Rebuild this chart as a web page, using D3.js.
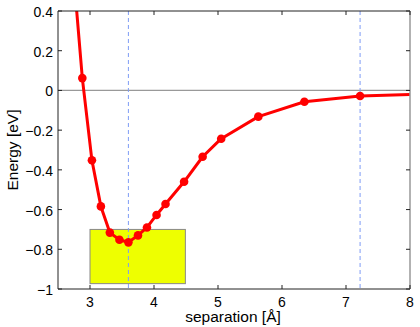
<!DOCTYPE html>
<html><head><meta charset="utf-8">
<script src="https://cdn.jsdelivr.net/npm/d3@7"></script>
<style>body{margin:0;background:#fff}svg{display:block}text{font-family:"Liberation Sans",Arial,sans-serif}</style>
</head><body><svg id="c" width="420" height="327"></svg>
<script>
const sepValues = [2.74, 2.88, 3.03, 3.17, 3.31, 3.46, 3.60, 3.75, 3.89, 4.04, 4.18, 4.47, 4.76, 5.05, 5.63, 6.35, 7.22, 8.0];
const energyValues = [0.60, 0.062, -0.352, -0.584, -0.716, -0.752, -0.765, -0.730, -0.690, -0.627, -0.572, -0.460, -0.334, -0.243, -0.132, -0.057, -0.028, -0.021];
const markerIdx = [1,2,3,4,5,6,7,8,9,10,11,12,13,14,15,16];
const xTicks = [3,4,5,6,7,8];
const yTicks = [0.4,0.2,0,-0.2,-0.4,-0.6,-0.8,-1];
const vLines = [3.60, 7.22];
const boxX = [3.0, 4.49];
const boxY = [-0.70, -0.973];

const L=58,R=410,T=11,B=289;
const x=d3.scaleLinear().domain([2.5,8]).range([L,R]);
const y=d3.scaleLinear().domain([-1,0.4]).range([B,T]);
const svg=d3.select("#c");
svg.append("defs").append("clipPath").attr("id","clip").append("rect")
  .attr("x",L).attr("y",T).attr("width",R-L).attr("height",B-T);
const g=svg.append("g").attr("clip-path","url(#clip)");

g.append("rect").attr("x",x(boxX[0])).attr("y",y(boxY[0]))
  .attr("width",x(boxX[1])-x(boxX[0])).attr("height",y(boxY[1])-y(boxY[0]))
  .attr("fill","#eeff00").attr("stroke","#888").attr("stroke-width",1);
g.append("line").attr("x1",L).attr("x2",R).attr("y1",y(0)).attr("y2",y(0))
  .attr("stroke","#999").attr("stroke-width",1.2);
vLines.forEach(v=>g.append("line").attr("x1",x(v)).attr("x2",x(v)).attr("y1",T).attr("y2",B)
  .attr("stroke","#7f9cf5").attr("stroke-width",1).attr("stroke-dasharray","4,3"));

const pts=sepValues.map((s,i)=>[s,energyValues[i]]);
g.append("path").datum(pts).attr("d",d3.line().x(d=>x(d[0])).y(d=>y(d[1])))
  .attr("fill","none").attr("stroke","#ff0000").attr("stroke-width",3).attr("stroke-linejoin","round");
g.selectAll("circle").data(markerIdx.map(i=>pts[i])).join("circle")
  .attr("cx",d=>x(d[0])).attr("cy",d=>y(d[1])).attr("r",4.3).attr("fill","#ff0000");

const ax=svg.append("g");
ax.append("line").attr("x1",L).attr("x2",R).attr("y1",T).attr("y2",T).attr("stroke","#222");
ax.append("line").attr("x1",L).attr("x2",R).attr("y1",B).attr("y2",B).attr("stroke","#222");
ax.append("line").attr("x1",L).attr("x2",L).attr("y1",T).attr("y2",B).attr("stroke","#222");
ax.append("line").attr("x1",R).attr("x2",R).attr("y1",T).attr("y2",B).attr("stroke","#999").attr("stroke-width",1.5);

const tl=4;
xTicks.forEach(t=>{
  ax.append("line").attr("x1",x(t)).attr("x2",x(t)).attr("y1",B).attr("y2",B-tl).attr("stroke","#222");
  ax.append("line").attr("x1",x(t)).attr("x2",x(t)).attr("y1",T).attr("y2",T+tl).attr("stroke","#222");
  ax.append("text").attr("x",x(t)).attr("y",B+18).attr("text-anchor","middle").attr("font-size",14).text(d3.format("d")(t));
});
yTicks.forEach(t=>{
  ax.append("line").attr("x1",L).attr("x2",L+tl).attr("y1",y(t)).attr("y2",y(t)).attr("stroke","#222");
  ax.append("line").attr("x1",R).attr("x2",R-tl).attr("y1",y(t)).attr("y2",y(t)).attr("stroke","#222");
  ax.append("text").attr("x",L-5).attr("y",y(t)+6).attr("text-anchor","end").attr("font-size",14)
    .text(t===0?"0":(t<0?"\u2212":"")+(Number.isInteger(t)?Math.abs(t):Math.abs(t).toFixed(1)));
});
svg.append("text").attr("x",233).attr("y",322).attr("text-anchor","middle").attr("font-size",15.5).text("separation [Å]");
svg.append("text").attr("transform",`translate(18,${(T+B)/2}) rotate(-90)`).attr("text-anchor","middle").attr("font-size",15.5).text("Energy [eV]");
</script></body></html>
